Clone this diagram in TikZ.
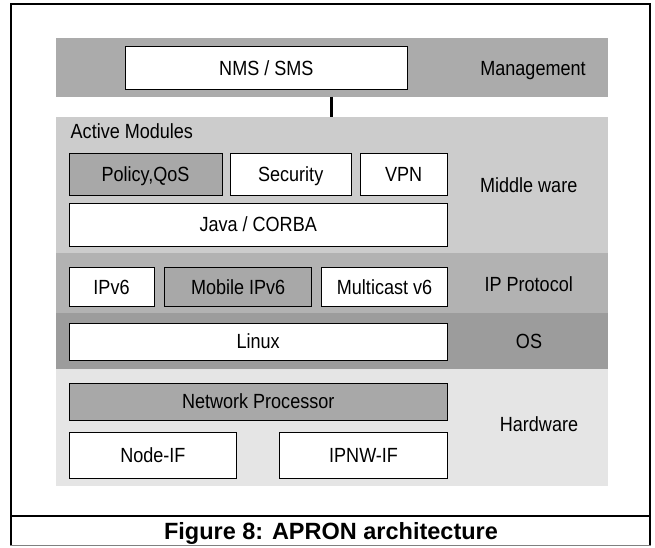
\documentclass[tikz,border=0pt]{standalone}
\usepackage{color}
\usepackage{fontspec}
\setmainfont{Liberation Sans}[FakeStretch=0.88]
\newfontfamily\capfont{Liberation Sans}
\usepackage{tikz}
\usetikzlibrary{positioning}

\definecolor{mgmtgray}{gray}{0.67}
\definecolor{midgray}{gray}{0.80}
\definecolor{ipgray}{gray}{0.70}
\definecolor{osgray}{gray}{0.61}
\definecolor{hwgray}{gray}{0.90}
\definecolor{boxgray}{gray}{0.66}

\begin{document}
\begin{tikzpicture}[x=1pt, y=-1pt, font=\fontsize{20.5}{24}\selectfont,
		band/.style={fill=#1, inner sep=0pt, outer sep=0pt, anchor=north west},
		box/.style={draw, fill=white, line width=1pt, inner sep=0pt, outer sep=0pt, text height=14.6pt, text depth=0pt, anchor=north west},
		dark/.style={box, fill=boxgray},
		side/.style={anchor=base}]
		\useasboundingbox (0,0) rectangle (655,547);

		% layers
		\node[band=mgmtgray, minimum width=551.8pt, minimum height=58.4pt] (mgmt) at (55.7,38.3) {};
		\node[band=midgray, minimum width=551.8pt, minimum height=136.6pt] (mid) at (55.7,116.7) {};
		\node[band=ipgray, minimum width=551.8pt, minimum height=59.4pt] (ip) at (55.7,253.3) {};
		\node[band=osgray, minimum width=551.8pt, minimum height=56.6pt] (os) at (55.7,312.7) {};
		\node[band=hwgray, minimum width=551.8pt, minimum height=116.4pt] (hw) at (55.7,369.3) {};

		% management
		\node[box, minimum width=281.3pt, minimum height=42.6pt] (nms) at (125.7,46.7) {NMS / SMS};
		\node[side] (lmgmt) at (533,75.8) {Management};

		% middle ware
		\node[anchor=base west, inner sep=0pt] (active) at (70.5,138.8) {Active Modules};
		\node[dark, minimum width=153pt, minimum height=41.7pt] (pol) at (69,153.3) {Policy,QoS};
		\node[box, minimum width=120.6pt, minimum height=41.7pt, right=8.4pt of pol] (sec) {Security};
		\node[box, minimum width=87.4pt, minimum height=41.7pt, right=9pt of sec] (vpn) {VPN};
		\node[box, minimum width=378.4pt, minimum height=42.7pt] (java) at (69,203.3) {Java / CORBA};
		\node[side] (lmid) at (528.7,192.3) {Middle ware};

		% ip protocol
		\node[box, minimum width=85pt, minimum height=39.4pt] (ipv6) at (69,267.3) {IPv6};
		\node[dark, minimum width=147.1pt, minimum height=39.4pt, right=10.6pt of ipv6] (mip) {Mobile IPv6};
		\node[box, minimum width=125.7pt, minimum height=39.4pt, right=10pt of mip] (mcast) {Multicast v6};
		\node[side] (lip) at (528.7,291.6) {IP Protocol};

		% os
		\node[box, minimum width=378.4pt, minimum height=36.7pt] (linux) at (69,323.3) {Linux};
		\node[side] (los) at (529,348) {OS};

		% hardware
		\node[dark, minimum width=378.4pt, minimum height=36.7pt] (np) at (69,383.3) {Network Processor};
		\node[box, minimum width=167.7pt, minimum height=45.5pt] (nodeif) at (69,432.7) {Node-IF};
		\node[box, minimum width=167.6pt, minimum height=45.5pt, right=43.1pt of nodeif] (ipnw) {IPNW-IF};
		\node[side] (lhw) at (539,431.3) {Hardware};

		\draw[line width=2.3pt] (mgmt.south) -- (mid.north);

		% frame and caption
		\draw[line width=2.3pt] (11.3,4.3) rectangle (650.3,516.3);
		\draw[line width=2pt] (11.3,516.3) -- (11.3,545.5);
		\draw[line width=2pt] (650.3,516.3) -- (650.3,545.5);
		\draw[gray, line width=1.2pt] (10.3,545.8) -- (651.3,545.8);
		\node[side, font=\capfont\bfseries\fontsize{23.5}{27}\selectfont] (cap) at (331,539.3) {Figure 8: APRON architecture};
	\end{tikzpicture}
\end{document}
